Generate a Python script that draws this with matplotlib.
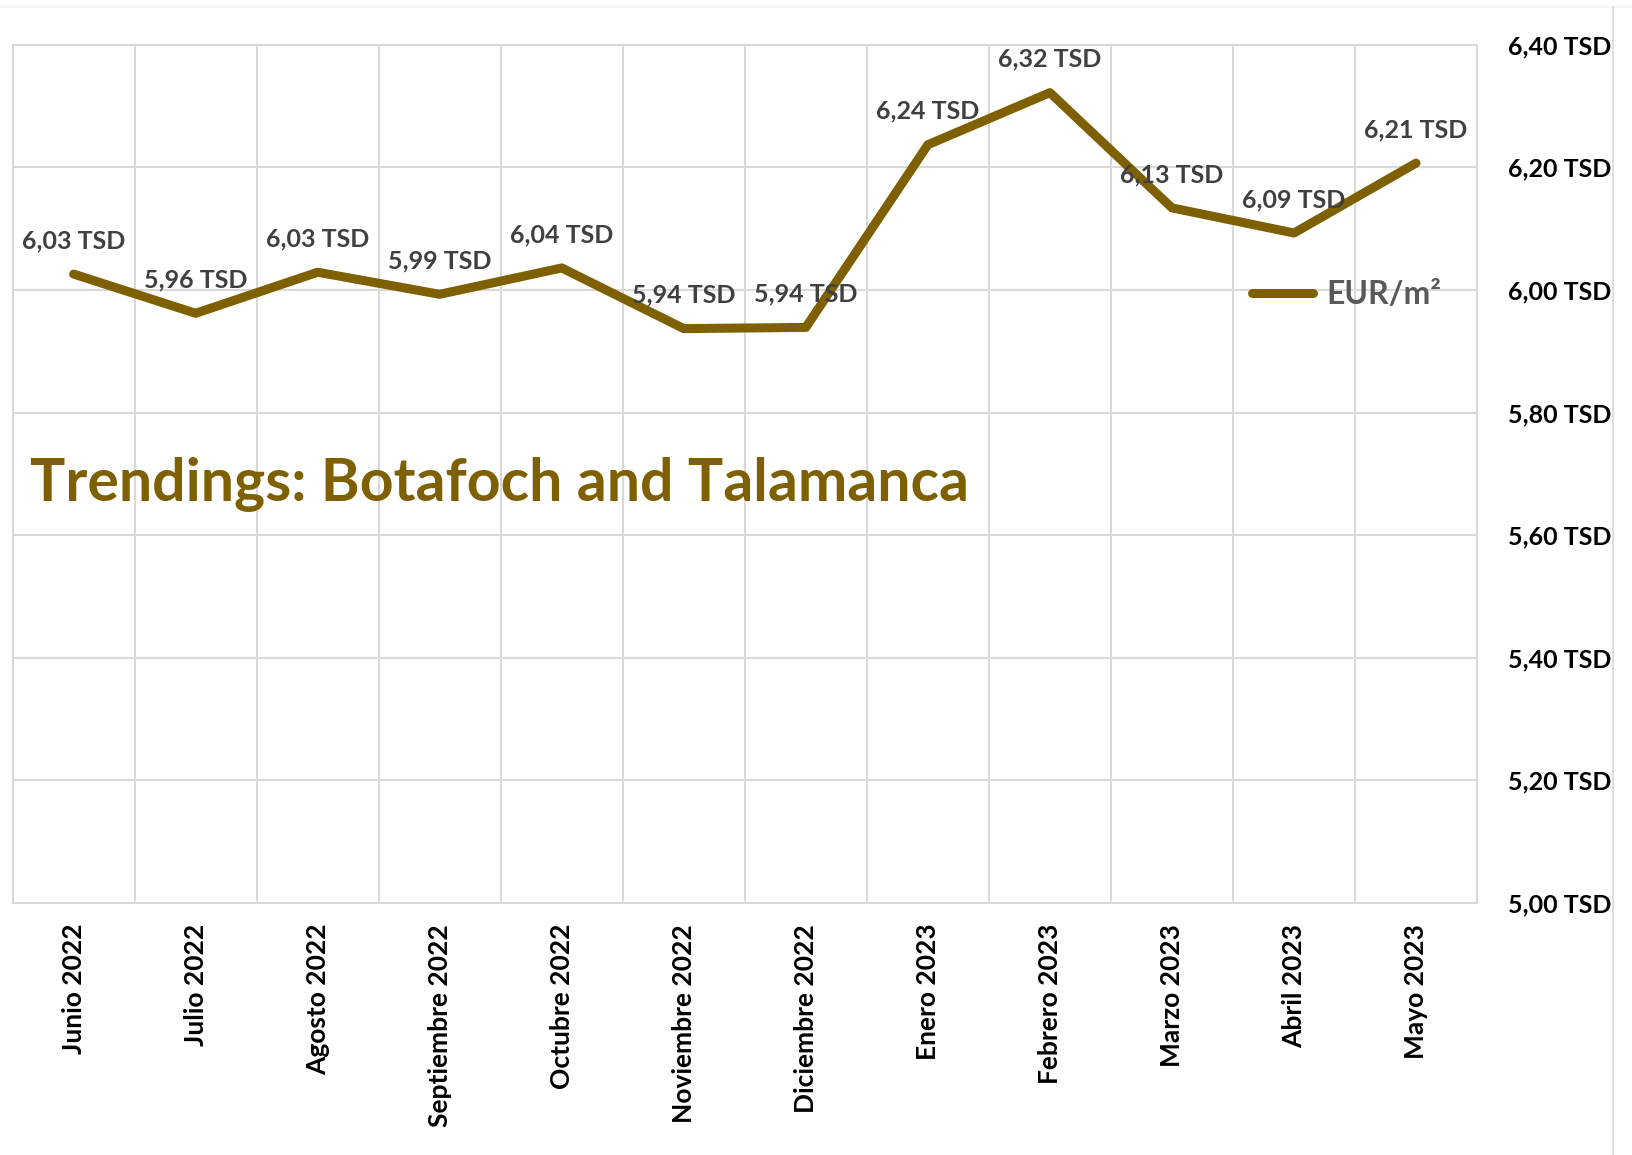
import matplotlib.pyplot as plt
from matplotlib.lines import Line2D
import numpy as np

plt.rcParams['font.family'] = ['Lato', 'DejaVu Sans']

months = ['Junio 2022', 'Julio 2022', 'Agosto 2022', 'Septiembre 2022', 'Octubre 2022',
          'Noviembre 2022', 'Diciembre 2022', 'Enero 2023', 'Febrero 2023', 'Marzo 2023',
          'Abril 2023', 'Mayo 2023']
eur_m2 = [6.026, 5.962, 6.029, 5.993, 6.036, 5.937, 5.939, 6.237, 6.322, 6.134, 6.093, 6.207]
y_ticks = [5.0, 5.2, 5.4, 5.6, 5.8, 6.0, 6.2, 6.4]

line_color = '#7F6000'
grid_color = '#D9D9D9'

def tsd(v):
    return f"{v:.2f}".replace('.', ',') + ' TSD'

fig, ax = plt.subplots(figsize=(16.33, 11.55), dpi=100)
fig.subplots_adjust(left=0.0077, right=0.9045, top=0.9612, bottom=0.2182)

x = np.arange(len(months))
ax.plot(x, eur_m2, color=line_color, lw=6.5, solid_capstyle='round',
        solid_joinstyle='round', label='EUR/m²', zorder=3)

# etiquetas de datos encima de cada punto
for xi, v in zip(x, eur_m2):
    ax.annotate(tsd(v), (xi, v), xytext=(0, 24), textcoords='offset points',
                ha='center', va='center', fontsize=18, fontweight='bold',
                color='#404040', zorder=4)

ax.set_xlim(-0.5, len(months) - 0.5)
ax.set_ylim(5.0, 6.4)
ax.set_xticks(x)
ax.set_xticklabels(months, rotation=90, ha='center', va='top',
                   fontsize=19, fontweight='bold')
ax.set_xticks(np.arange(0.5, len(months) - 0.5, 1), minor=True)
ax.set_yticks(y_ticks)
ax.set_yticklabels([tsd(v) for v in y_ticks], fontsize=18, fontweight='bold')
ax.yaxis.tick_right()
ax.tick_params(axis='y', length=0, pad=22)
ax.tick_params(axis='x', which='both', length=0, pad=15)

ax.grid(True, which='minor', axis='x', color=grid_color, lw=1.5)
ax.grid(True, which='major', axis='y', color=grid_color, lw=1.5)
ax.set_axisbelow(True)
for s in ax.spines.values():
    s.set_color(grid_color)
    s.set_linewidth(1.5)

ax.text(0.012, 0.488, 'Trendings: Botafoch and Talamanca', transform=ax.transAxes,
        fontsize=42.5, fontweight='bold', color=line_color, ha='left', va='center')

leg = ax.legend(loc='center', bbox_to_anchor=(0.911, 0.709), frameon=False,
                fontsize=23, handlelength=1.9, handletextpad=0.4)
for t in leg.get_texts():
    t.set_color('#595959')
    t.set_fontweight('bold')

# borde del gráfico
fig.add_artist(Line2D([0, 1], [1 - 7 / 1155] * 2, color='#F2F2F2', lw=1.2))
fig.add_artist(Line2D([1613 / 1633] * 2, [0, 1 - 7 / 1155], color='#D9D9D9', lw=1.2))

fig.savefig('out.png', dpi=100)
